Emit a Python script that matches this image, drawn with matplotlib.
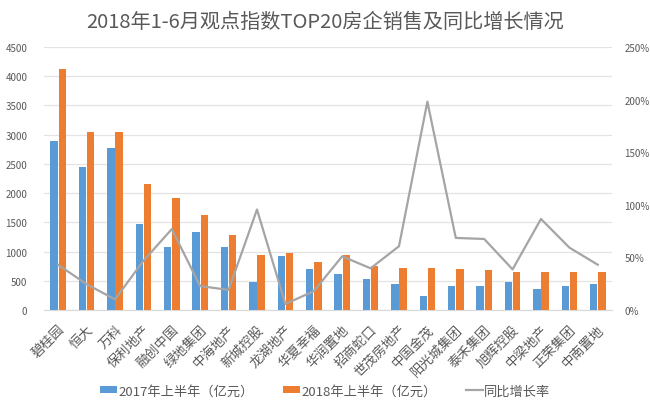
import matplotlib
matplotlib.use("Agg")
import matplotlib.pyplot as plt
import numpy as np
from matplotlib.ticker import FuncFormatter

plt.rcParams['font.family'] = ['Noto Sans CJK SC', 'DejaVu Sans']

# data
companies = ["碧桂园", "恒大", "万科", "保利地产", "融创中国", "绿地集团", "中海地产",
             "新城控股", "龙湖地产", "华夏幸福", "华润置地", "招商蛇口", "世茂房地产",
             "中国金茂", "阳光城集团", "泰禾集团", "旭辉控股", "中梁地产", "正荣集团", "中南置地"]
sales_2017 = [2890, 2444, 2770, 1468, 1085, 1331, 1079, 485, 919, 696,
              621, 526, 451, 240, 417, 411, 474, 354, 405, 451]
sales_2018 = [4129, 3044, 3050, 2153, 1919, 1633, 1285, 948, 971, 826,
              945, 746, 725, 720, 702, 691, 657, 657, 645, 645]
growth = [42.9, 24.5, 10.1, 46.7, 76.9, 22.7, 19.1, 95.5, 5.7, 17.9,
          51.0, 39.6, 60.6, 198.0, 68.5, 67.5, 38.6, 86.5, 59.3, 43.0]

blue = "#5B9BD5"
orange = "#ED7D31"
gray = "#A5A5A5"
text_c = "#595959"

fig = plt.figure(figsize=(6.5, 4.1), dpi=100)
ax = fig.add_axes([0.0677, 0.2415, 0.8738, 0.6415])
ax2 = ax.twinx()

x = np.arange(len(companies))
w = 0.26
ax.bar(x - 0.145, sales_2017, w, color=blue, label="2017年上半年（亿元）", zorder=3)
ax.bar(x + 0.145, sales_2018, w, color=orange, label="2018年上半年（亿元）", zorder=3)
ax2.plot(x, growth, color=gray, lw=1.6, label="同比增长率", zorder=4)

ax.set_xlim(-0.5, len(companies) - 0.5)
ax.set_ylim(0, 4500)
ax.set_yticks(range(0, 4501, 500))
ax2.set_ylim(0, 250)
ax2.set_yticks(range(0, 251, 50))
ax2.yaxis.set_major_formatter(FuncFormatter(lambda v, p: f"{int(v)}%"))

ax.grid(axis="y", color="#E3E3E3", lw=0.9, zorder=0)
ax.set_axisbelow(True)
for a in (ax, ax2):
    for s in a.spines.values():
        s.set_visible(False)
    a.tick_params(length=0, colors=text_c, labelsize=7)
ax.spines["bottom"].set_visible(True)
ax.spines["bottom"].set_color("#D9D9D9")
ax.tick_params(axis="y", pad=12)
ax2.tick_params(axis="y", pad=9)

ax.set_xticks(x)
ax.set_xticklabels(companies, rotation=45, ha="right", rotation_mode="anchor",
                   fontsize=9.5, color=text_c)
ax.tick_params(axis="x", pad=9)

fig.text(0.5, 0.945, "2018年1-6月观点指数TOP20房企销售及同比增长情况",
         ha="center", va="center", fontsize=14.5, color=text_c)

h1, l1 = ax.get_legend_handles_labels()
h2, l2 = ax2.get_legend_handles_labels()
leg = fig.legend(h1 + h2, l1 + l2, loc="center", bbox_to_anchor=(0.5, 0.044),
                 ncol=3, frameon=False, fontsize=9.5, handlelength=1.3,
                 handleheight=0.4, handletextpad=0.1, columnspacing=2.2)
for t in leg.get_texts():
    t.set_color(text_c)

fig.savefig("out.png", dpi=100)
